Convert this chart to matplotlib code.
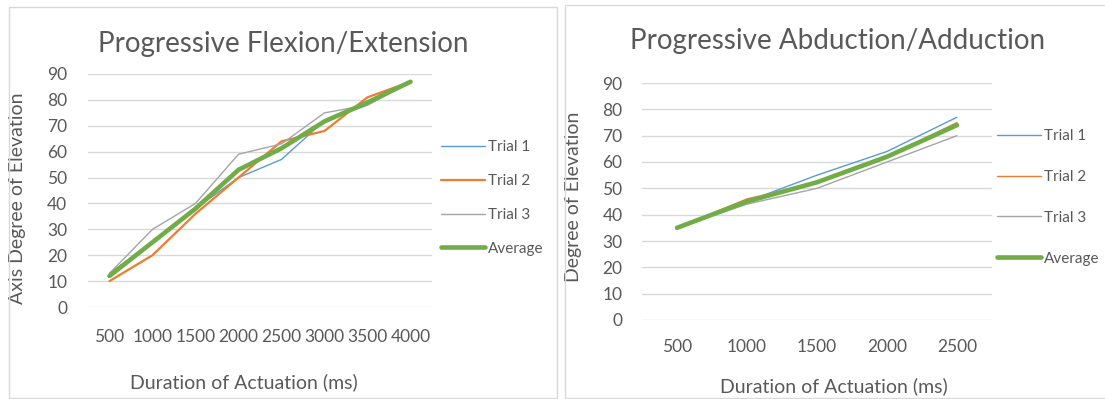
### two panel chart: progressive flexion / abduction trials

###########
# IMPORTS #
###########

import matplotlib
matplotlib.use('Agg')
import matplotlib.pyplot as plt
from matplotlib.patches import Rectangle

########
# DATA #
########
# ---FLEXION/EXTENSION---#
flexDur = ['500', '1000', '1500', '2000', '2500', '3000', '3500', '4000']
flexTrial1 = [13, 25, 38, 50, 57, 72, 78, 87]
flexTrial2 = [10, 20, 36, 50, 64, 68, 81, 87]
flexTrial3 = [13, 30, 40, 59, 63, 75, 78, 87]
flexAverage = [12, 25, 38, 53, 61.3, 71.7, 79, 87]

# ---ABDUCTION/ADDUCTION---#
abdDur = ['500', '1000', '1500', '2000', '2500']
abdTrial1 = [35, 45, 55, 64, 77]
abdTrial2 = [35, 46, 52, 62, 75]
abdTrial3 = [35, 44, 50, 60, 70]
abdAverage = [35, 45, 52.3, 62, 74]

yTicks = [0, 10, 20, 30, 40, 50, 60, 70, 80, 90]
seriesNames = ['Trial 1', 'Trial 2', 'Trial 3', 'Average']

##########
# STYLES #
##########
plt.rcParams['font.family'] = ['Lato', 'DejaVu Sans']
textCol = '#595959'
gridCol = '#D9D9D9'
colors = ['#5B9BD5', '#ED7D31', '#A5A5A5', '#70AD47']

W, H = 1105.0, 399.0

############
# PLOTTING #
############
f = plt.figure(figsize=(W / 100, H / 100), dpi=100)

# panel borders
f.patches.append(Rectangle((9 / W, 1 - 398 / H), 548 / W, 391 / H, transform=f.transFigure,
                           fill=False, edgecolor=gridCol, linewidth=1))
f.patches.append(Rectangle((565 / W, 1 - 398 / H), 545 / W, 393 / H, transform=f.transFigure,
                           fill=False, edgecolor=gridCol, linewidth=1))


def draw_panel(box, cats, series, widths, title, titlePos, ylabel, ylabPos, xlabPos,
               legPos, legSpacing, xpad, ypad):
    # box in pixels: left, top, right, bottom
    l, t, r, b = box
    ax = f.add_axes([l / W, 1 - b / H, (r - l) / W, (b - t) / H])
    x = list(range(len(cats)))
    for s, name, col, lw in zip(series, seriesNames, colors, widths):
        ax.plot(x, s, color=col, linewidth=lw, label=name, solid_capstyle='round')
    ax.set_xlim(-0.5, len(cats) - 0.5)
    ax.set_ylim(0, 90)
    ax.set_yticks(yTicks)
    ax.set_xticks(x)
    ax.set_xticklabels(cats)
    ax.yaxis.grid(True, color=gridCol, linewidth=1)
    ax.set_axisbelow(True)
    for sp in ax.spines.values():
        sp.set_visible(False)
    ax.tick_params(axis='both', length=0, labelsize=12.5, labelcolor=textCol)
    ax.tick_params(axis='x', pad=xpad)
    ax.tick_params(axis='y', pad=ypad)
    ax.set_ylabel(ylabel, fontsize=14, color=textCol)
    ax.yaxis.set_label_coords(*ylabPos)
    ax.set_xlabel('Duration of Actuation (ms)', fontsize=14, color=textCol)
    ax.xaxis.set_label_coords(*xlabPos)
    f.text(titlePos[0] / W, 1 - titlePos[1] / H, title, fontsize=20, color=textCol,
           ha='center', va='center')
    leg = ax.legend(loc='center left', bbox_to_anchor=legPos, frameon=False,
                    borderpad=0, borderaxespad=0, handlelength=2.9, handletextpad=0.2,
                    labelspacing=legSpacing, fontsize=11)
    for txt in leg.get_texts():
        txt.set_color(textCol)
    return ax


draw_panel((88, 74, 432, 307), flexDur,
           [flexTrial1, flexTrial2, flexTrial3, flexAverage], [1.0, 1.6, 1.0, 3.3],
           'Progressive Flexion/Extension', (283, 44), 'Axis Degree of Elevation',
           (-0.18, 0.468), (0.453, -0.283), (1.026, 0.468), 1.3, 16, 15)

draw_panel((642, 83, 992, 320), abdDur,
           [abdTrial1, abdTrial2, abdTrial3, abdAverage], [1.0, 1.0, 1.0, 3.3],
           'Progressive Abduction/Adduction', (838, 41), 'Degree of Elevation',
           (-0.172, 0.52), (0.549, -0.24), (1.014, 0.517), 1.75, 14, 14)

plt.savefig('out.png', dpi=100)
